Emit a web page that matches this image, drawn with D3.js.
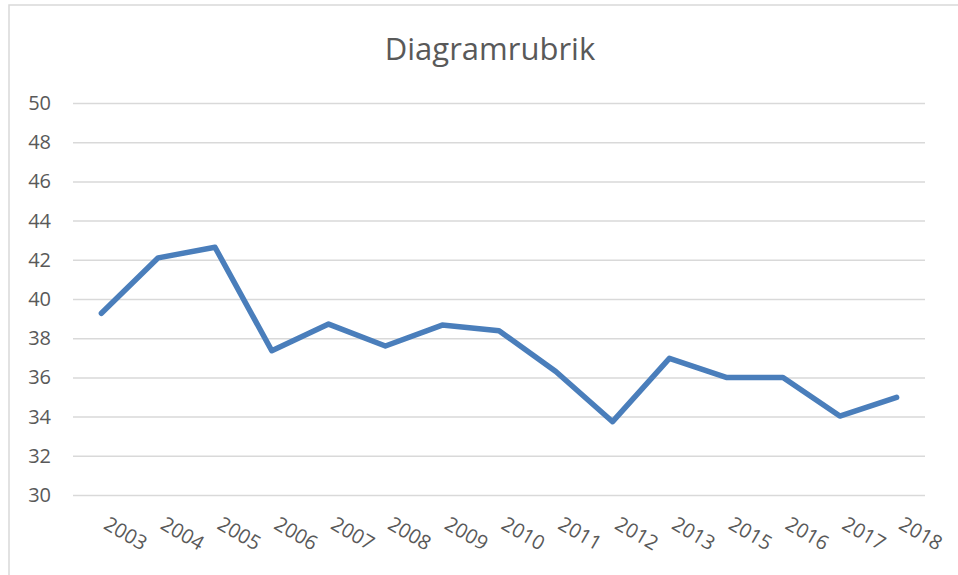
<!DOCTYPE html>
<html>
<head>
<meta charset="utf-8">
<script src="https://cdn.jsdelivr.net/npm/d3@7"></script>
<style>
  body { margin: 0; background: #fff; }
  svg { display: block; }
</style>
</head>
<body>
<svg id="chart" width="958" height="575"></svg>
<script>
"use strict";

//// data
const years = ["2003", "2004", "2005", "2006", "2007", "2008", "2009", "2010",
               "2011", "2012", "2013", "2015", "2016", "2017", "2018"];
const values = [39.27, 42.1, 42.64, 37.36, 38.72, 37.6, 38.67, 38.38,
                36.3, 33.74, 36.97, 36.0, 36.0, 34.03, 34.98];
const yTicks = [30, 32, 34, 36, 38, 40, 42, 44, 46, 48, 50];
const chartTitle = "Diagramrubrik";

(function () {
    const svg = d3.select("#chart");
    const width = +svg.attr("width");
    const textColor = "#595959";

    // chart frame
    svg.append("rect")
        .attr("x", 9).attr("y", 5)
        .attr("width", width + 20).attr("height", 600)
        .attr("fill", "white")
        .attr("stroke", "#d9d9d9")
        .attr("stroke-width", 1.5);

    const plot = { left: 73, right: 925, top: 103, bottom: 495 };

    const x = d3.scaleBand()
        .domain(years)
        .range([plot.left, plot.right]);

    const y = d3.scaleLinear()
        .domain([30, 50])
        .range([plot.bottom, plot.top]);

    //// title
    svg.append("text")
        .attr("x", 490)
        .attr("y", 60)
        .attr("text-anchor", "middle")
        .attr("fill", textColor)
        .style("font-family", "'Open Sans', sans-serif")
        .style("font-size", "31px")
        .text(chartTitle);

    //// gridlines + y labels
    const yAxis = svg.append("g")
        .attr("transform", "translate(" + plot.left + ",0)")
        .call(d3.axisLeft(y)
            .tickValues(yTicks)
            .tickSize(-(plot.right - plot.left))
            .tickPadding(22));
    yAxis.select(".domain").remove();
    yAxis.selectAll(".tick line")
        .attr("stroke", "#d9d9d9")
        .attr("stroke-width", 1.5);
    yAxis.selectAll(".tick text")
        .attr("fill", textColor)
        .style("font-family", "'Open Sans', sans-serif")
        .style("font-size", "20px");

    //// x labels (rotated)
    const xAxis = svg.append("g")
        .attr("transform", "translate(0," + plot.bottom + ")")
        .call(d3.axisBottom(x).tickSize(0));
    xAxis.select(".domain").remove();
    xAxis.selectAll(".tick text")
        .attr("fill", textColor)
        .style("font-family", "'Open Sans', sans-serif")
        .style("font-size", "20px")
        .attr("text-anchor", "start")
        .attr("dy", null)
        .attr("y", 0)
        .attr("transform", "translate(1,33) rotate(30)");

    //// line
    const line = d3.line()
        .x(function (d, i) { return x(years[i]) + x.bandwidth() / 2; })
        .y(function (d) { return y(d); });

    svg.append("path")
        .datum(values)
        .attr("fill", "none")
        .attr("stroke", "#4a7ebb")
        .attr("stroke-width", 5.5)
        .attr("stroke-linejoin", "round")
        .attr("stroke-linecap", "round")
        .attr("d", line);
})();
</script>
</body>
</html>
